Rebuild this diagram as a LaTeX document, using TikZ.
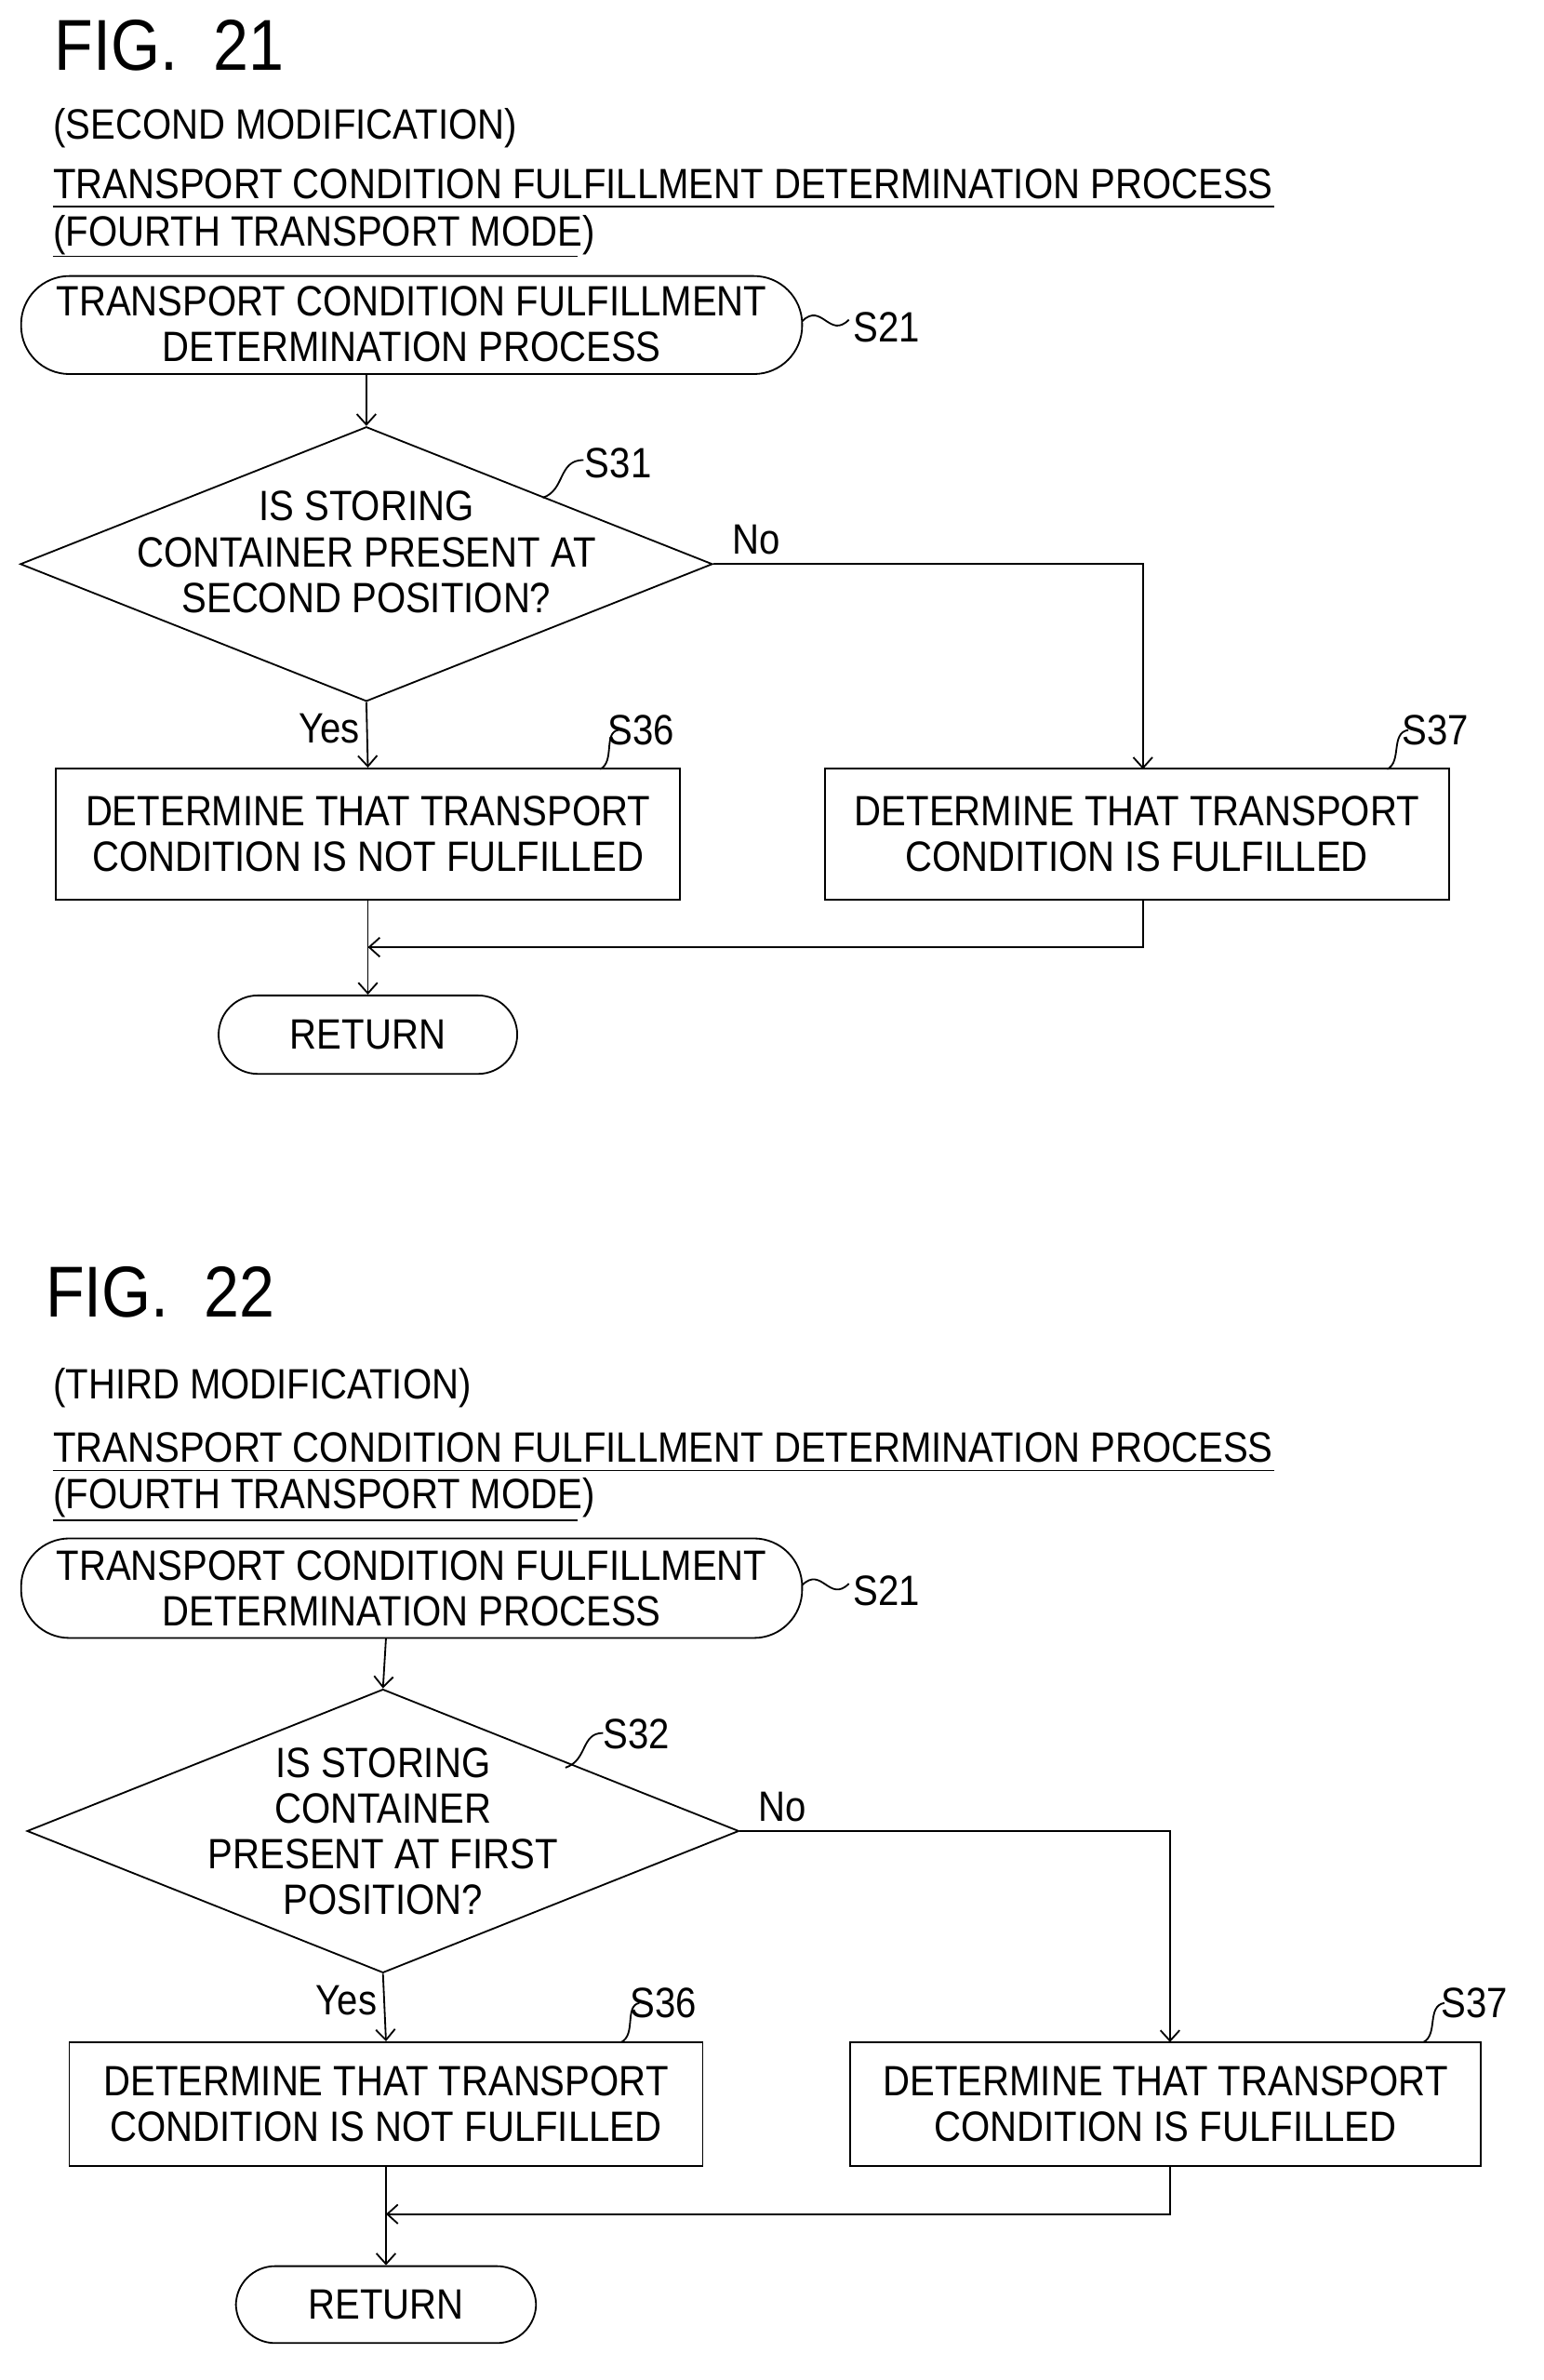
\documentclass[tikz,border=0pt]{standalone}
\usepackage{fontspec}
\setmainfont{Liberation Sans}[FakeStretch=0.88]
\usetikzlibrary{positioning,shapes.geometric,arrows.meta}
\tikzset{
  txt/.style={font=\fontsize{20}{21.5}\selectfont, align=center, inner sep=0pt},
  figlbl/.style={font=\fontsize{34}{36}\selectfont, anchor=west, inner sep=0pt},
  head/.style={txt, anchor=west},
  proc/.style={txt, draw, thick},
  ret/.style={txt, draw, thick, rounded corners=0.65cm},
  cond/.style={draw, thick, diamond, inner sep=0pt},
  flow/.style={thick, -{Straight Barb[length=5pt,width=9pt]}},
  line/.style={thick},
  tag/.style={thick}
}
\begin{document}
\begin{tikzpicture}[x=0.025cm,y=-0.025cm]
  \useasboundingbox (0,0) rectangle (1024,1578);

  % FIG. 21
  \node[figlbl] (fig21) at (36,30) {FIG.~~21};
  \node[head] (mod21) at (35,85) {(SECOND MODIFICATION)};
  \node[head] (ttl21) at (35,122) {TRANSPORT CONDITION FULFILLMENT DETERMINATION PROCESS};
  \node[head] (tm21) at (35,156) {(FOURTH TRANSPORT MODE)};
  \draw[line] (35,137) -- (845,137);
  \draw[line] (35,170) -- (383,170);

  \draw[thick, rounded corners=0.8cm] (14,183) rectangle (532,248);
  \node[txt] (st21) at (273,215) {TRANSPORT CONDITION FULFILLMENT\\DETERMINATION PROCESS};
  \node[txt] (s21a) at (588,217) {S21};
  \draw[tag] (532,213) .. controls (545,200) and (550,225) .. (563,212);

  \node[cond, minimum width=11.475cm, minimum height=4.55cm] (c31) at (243,374) {};
  \node[txt] at (243,366) {IS STORING\\CONTAINER PRESENT AT\\SECOND POSITION?};
  \node[txt] (s31) at (410,307) {S31};
  \draw[tag] (360,330) .. controls (375,325) and (370,305) .. (387,305);

  \node[proc, minimum width=10.35cm, minimum height=2.175cm] (no21) at (244,553) {DETERMINE THAT TRANSPORT\\CONDITION IS NOT FULFILLED};
  \node[proc, minimum width=10.35cm, minimum height=2.175cm] (ok21) at (754,553) {DETERMINE THAT TRANSPORT\\CONDITION IS FULFILLED};
  \node[txt] (s36a) at (425,484) {S36};
  \draw[tag] (398,510) .. controls (408,505) and (400,486) .. (410,484);
  \node[txt] (s37a) at (952,484) {S37};
  \draw[tag] (920,510) .. controls (930,505) and (922,486) .. (934,484);

  \node[ret, minimum width=4.95cm, minimum height=1.3cm] (ret21) at (244,686) {RETURN};

  \draw[flow] (243,248) -- (c31.north);
  \draw[flow] (c31.south) -- (no21.north) node[txt, pos=0.4, left=3pt] {Yes};
  \draw[flow] (c31.east) -- (758,374) node[txt, pos=0.1, above=4pt] {No} -- (758,510);
  \draw[flow] (no21.south) -- (ret21.north);
  \draw[flow] (758,597) -- (758,628) -- (244,628);

  % FIG. 22
  \node[figlbl] (fig22) at (30,857) {FIG.~~22};
  \node[head] (mod22) at (35,920) {(THIRD MODIFICATION)};
  \node[head] (ttl22) at (35,960) {TRANSPORT CONDITION FULFILLMENT DETERMINATION PROCESS};
  \node[head] (tm22) at (35,993) {(FOURTH TRANSPORT MODE)};
  \draw[line] (35,975) -- (845,975);
  \draw[line] (35,1008) -- (383,1008);

  \draw[thick, rounded corners=0.8cm] (14,1020) rectangle (532,1086);
  \node[txt] (st22) at (273,1053) {TRANSPORT CONDITION FULFILLMENT\\DETERMINATION PROCESS};
  \node[txt] (s21b) at (588,1055) {S21};
  \draw[tag] (532,1051) .. controls (545,1038) and (550,1063) .. (563,1050);

  \node[cond, minimum width=11.8cm, minimum height=4.7cm] (c32) at (254,1214) {};
  \node[txt] at (254,1214) {IS STORING\\CONTAINER\\PRESENT AT FIRST\\POSITION?};
  \node[txt] (s32) at (422,1150) {S32};
  \draw[tag] (375,1172) .. controls (390,1167) and (385,1149) .. (400,1149);

  \node[proc, minimum width=10.5cm, minimum height=2.05cm] (no22) at (256,1395) {DETERMINE THAT TRANSPORT\\CONDITION IS NOT FULFILLED};
  \node[proc, minimum width=10.45cm, minimum height=2.05cm] (ok22) at (773,1395) {DETERMINE THAT TRANSPORT\\CONDITION IS FULFILLED};
  \node[txt] (s36b) at (440,1328) {S36};
  \draw[tag] (412,1354) .. controls (422,1349) and (414,1330) .. (424,1328);
  \node[txt] (s37b) at (978,1328) {S37};
  \draw[tag] (944,1354) .. controls (954,1349) and (946,1330) .. (958,1328);

  \node[ret, minimum width=4.975cm, minimum height=1.275cm] (ret22) at (256,1528) {RETURN};

  \draw[flow] (256,1086) -- (c32.north);
  \draw[flow] (c32.south) -- (no22.north) node[txt, pos=0.4, left=3pt] {Yes};
  \draw[flow] (c32.east) -- (776,1214) node[txt, pos=0.1, above=4pt] {No} -- (776,1354);
  \draw[flow] (no22.south) -- (ret22.north);
  \draw[flow] (776,1436) -- (776,1468) -- (256,1468);
\end{tikzpicture}
\end{document}
